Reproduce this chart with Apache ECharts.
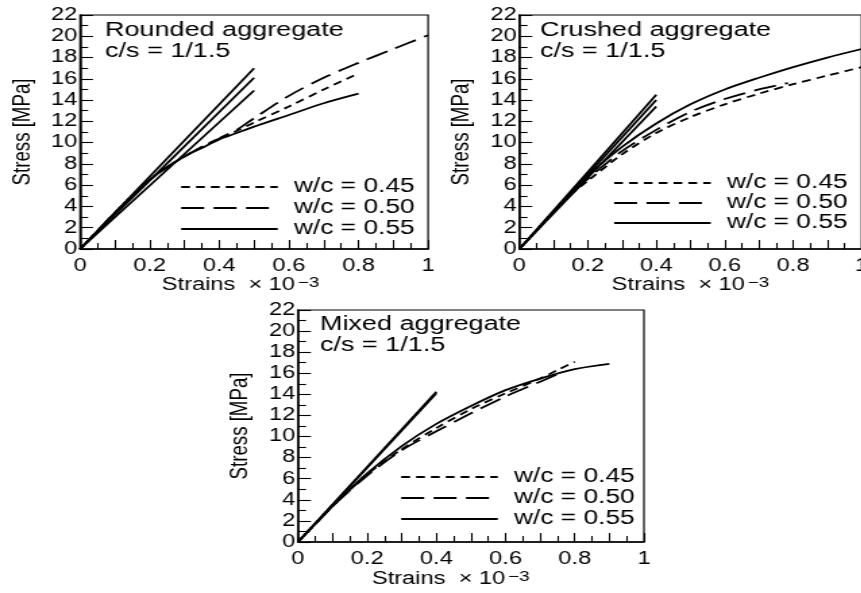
<!DOCTYPE html>
<html>
<head>
<meta charset="utf-8">
<script src="https://cdn.jsdelivr.net/npm/echarts@6/dist/echarts.min.js"></script>
<style>
  html, body { margin: 0; padding: 0; background: #fff; overflow: hidden; width: 861px; height: 593px; }
  #main { width: 638px; height: 593px; transform: scaleX(1.35); transform-origin: 0 0; }
</style>
</head>
<body>
<div id="main"></div>
<script>
// ---------- data (strain x 10^-3, stress MPa) ----------
const legendNames = ['w/c = 0.45', 'w/c = 0.50', 'w/c = 0.55'];
const xLabelValues = [0, 0.2, 0.4, 0.6, 0.8, 1];
const yLabelValues = [0, 2, 4, 6, 8, 10, 12, 14, 16, 18, 20, 22];

const panelTitles = ['Rounded aggregate\nc/s = 1/1.5', 'Crushed aggregate\nc/s = 1/1.5', 'Mixed aggregate\nc/s = 1/1.5'];

// Rounded aggregate
const roundedWc045 = [[0,0],[0.05,1.7],[0.1,3.4],[0.15,5.0],[0.2,6.5],[0.25,7.7],[0.3,8.7],[0.35,9.6],[0.4,10.4],[0.45,11.1],[0.5,11.9],[0.6,13.4],[0.7,15.0],[0.8,16.5]];
const roundedWc050 = [[0,0],[0.05,1.7],[0.1,3.4],[0.15,5.0],[0.2,6.5],[0.25,7.7],[0.3,8.7],[0.35,9.6],[0.4,10.4],[0.45,11.2],[0.5,12.3],[0.6,14.4],[0.7,16.1],[0.8,17.5],[0.9,18.8],[1.0,20.1]];
const roundedWc055 = [[0,0],[0.05,1.7],[0.1,3.4],[0.15,5.0],[0.2,6.5],[0.25,7.7],[0.3,8.7],[0.35,9.5],[0.4,10.3],[0.45,10.9],[0.5,11.5],[0.6,12.6],[0.7,13.7],[0.8,14.6]];
const roundedLinearA = [[0,0],[0.25,8.5],[0.5,17.0]];
const roundedLinearB = [[0,0],[0.25,8.05],[0.5,16.1]];
const roundedLinearC = [[0,0],[0.25,7.45],[0.5,14.9]];

// Crushed aggregate
const crushedWc045 = [[0,0],[0.05,1.75],[0.1,3.5],[0.15,5.1],[0.2,6.4],[0.3,8.9],[0.4,10.9],[0.5,12.4],[0.6,13.6],[0.7,14.6],[0.8,15.5],[0.9,16.3],[1.0,17.1]];
const crushedWc050 = [[0,0],[0.05,1.75],[0.1,3.5],[0.15,5.1],[0.2,6.6],[0.3,9.2],[0.4,11.2],[0.5,12.9],[0.6,14.1],[0.7,15.0],[0.785,15.6]];
const crushedWc055 = [[0,0],[0.05,1.75],[0.1,3.5],[0.15,5.2],[0.2,6.9],[0.3,9.6],[0.4,11.8],[0.5,13.6],[0.6,15.0],[0.7,16.1],[0.8,17.1],[0.9,18.0],[1.0,18.8]];
const crushedLinearA = [[0,0],[0.2,7.25],[0.4,14.5]];
const crushedLinearB = [[0,0],[0.2,7.0],[0.4,14.0]];
const crushedLinearC = [[0,0],[0.2,6.7],[0.4,13.4]];

// Mixed aggregate
const mixedWc045 = [[0,0],[0.05,1.7],[0.1,3.4],[0.2,6.4],[0.3,8.8],[0.4,10.8],[0.5,12.6],[0.6,14.1],[0.7,15.5],[0.75,16.3],[0.8,17.1]];
const mixedWc050 = [[0,0],[0.05,1.7],[0.1,3.4],[0.2,6.3],[0.3,8.7],[0.4,10.5],[0.5,12.2],[0.6,13.8],[0.7,15.2],[0.75,15.9]];
const mixedWc055 = [[0,0],[0.05,1.7],[0.1,3.4],[0.2,6.5],[0.3,9.1],[0.4,11.2],[0.5,12.9],[0.6,14.4],[0.7,15.5],[0.8,16.4],[0.9,16.9]];
const mixedLinearA = [[0,0],[0.2,7.12],[0.4,14.25]];
const mixedLinearB = [[0,0],[0.2,7.05],[0.4,14.1]];

// ---------- styling ----------
const FONT = "'Liberation Sans', Arial, Helvetica, sans-serif";
const BLACK = '#000';
const LW = 1.8;
const DASH_SHORT = [6.5, 4.5];
const DASH_LONG = [17, 7];
const styleFor = { 'w/c = 0.45': DASH_SHORT, 'w/c = 0.50': DASH_LONG, 'w/c = 0.55': 'solid' };

const grids = [
  { left: 59.3, top: 15, width: 257.8, height: 234 },
  { left: 384.7, top: 15, width: 253.5, height: 234 },
  { left: 220.7, top: 310, width: 256.3, height: 232 }
];

function xAxisFor(i, namePadRight, nameGap) {
  return {
    type: 'value', gridIndex: i, min: 0, max: 1, interval: 0.1,
    name: '{a|Strains  × 10}{s|−3}', nameLocation: 'middle', nameGap: nameGap,
    nameTextStyle: {
      color: BLACK, fontFamily: FONT, fontSize: 17.5, padding: [0, namePadRight, 0, 0],
      rich: {
        a: { color: BLACK, fontFamily: FONT, fontSize: 17.5 },
        s: { color: BLACK, fontFamily: FONT, fontSize: 14, verticalAlign: 'top', padding: [0, 0, 0, 2] }
      }
    },
    axisLine: { show: true, onZero: false, lineStyle: { color: BLACK, width: 1.5 } },
    axisTick: { show: true, inside: true, length: 9, lineStyle: { color: BLACK, width: 1.1 } },
    minorTick: { show: true, splitNumber: 2, length: 6, lineStyle: { color: BLACK, width: 1.1 } },
    splitLine: { show: false },
    axisLabel: {
      color: BLACK, fontFamily: FONT, fontSize: 17.5, margin: 8,
      formatter: function (v) {
        const k = Math.round(v * 10);
        const match = xLabelValues.find(t => Math.abs(t - k / 10) < 1e-9);
        return match === undefined ? '' : String(match);
      }
    }
  };
}
function yAxisFor(i) {
  return {
    type: 'value', gridIndex: i, min: 0, max: 22, interval: 2,
    name: 'Stress [MPa]', nameLocation: 'middle', nameGap: 33, nameRotate: 90,
    nameTextStyle: { color: BLACK, fontFamily: FONT, fontSize: 18.7 },
    axisLine: { show: true, onZero: false, lineStyle: { color: BLACK, width: 1.5 } },
    axisTick: { show: true, inside: true, length: 9.6, lineStyle: { color: BLACK, width: 1.1 } },
    minorTick: { show: true, splitNumber: 2, length: 6, lineStyle: { color: BLACK, width: 1.1 } },
    splitLine: { show: false },
    axisLabel: {
      color: BLACK, fontFamily: FONT, fontSize: 17.5, margin: 2,
      formatter: function (v) { return yLabelValues.indexOf(Math.round(v)) >= 0 ? String(Math.round(v)) : ''; }
    }
  };
}

function curve(name, data, i) {
  return {
    type: 'line', name: name, data: data, xAxisIndex: i, yAxisIndex: i,
    symbol: 'none', smooth: 0.3, clip: true,
    lineStyle: { color: BLACK, width: LW, type: styleFor[name] },
    emphasis: { disabled: true }, silent: true
  };
}
function linear(name, data, i) {
  return {
    type: 'line', name: name, data: data, xAxisIndex: i, yAxisIndex: i,
    symbol: 'none', clip: true,
    lineStyle: { color: BLACK, width: LW, type: 'solid' },
    emphasis: { disabled: true }, silent: true
  };
}

const series = [
  curve(legendNames[0], roundedWc045, 0),
  curve(legendNames[1], roundedWc050, 0),
  curve(legendNames[2], roundedWc055, 0),
  linear('Rounded linear A', roundedLinearA, 0),
  linear('Rounded linear B', roundedLinearB, 0),
  linear('Rounded linear C', roundedLinearC, 0),
  curve(legendNames[0], crushedWc045, 1),
  curve(legendNames[1], crushedWc050, 1),
  curve(legendNames[2], crushedWc055, 1),
  linear('Crushed linear A', crushedLinearA, 1),
  linear('Crushed linear B', crushedLinearB, 1),
  linear('Crushed linear C', crushedLinearC, 1),
  curve(legendNames[0], mixedWc045, 2),
  curve(legendNames[1], mixedWc050, 2),
  curve(legendNames[2], mixedWc055, 2),
  linear('Mixed linear A', mixedLinearA, 2),
  linear('Mixed linear B', mixedLinearB, 2)
];

function legendAt(left, top, gap) {
  return {
    orient: 'vertical', left: left, top: top, padding: 0, itemGap: gap,
    itemWidth: 71.5, itemHeight: 14, selectedMode: false,
    data: legendNames,
    itemStyle: { color: 'rgba(0,0,0,0)', borderWidth: 0, opacity: 0 },
    lineStyle: { color: BLACK, width: LW },
    textStyle: { color: BLACK, fontFamily: FONT, fontSize: 19.5, lineHeight: 20, padding: [0, 0, 0, 7] }
  };
}
function titleAt(text, left, top) {
  return {
    text: text, left: left, top: top, padding: 0, itemGap: 0,
    textStyle: { color: BLACK, fontFamily: FONT, fontSize: 20, fontWeight: 'normal', lineHeight: 21 }
  };
}

const chart = echarts.init(document.getElementById('main'), null, { renderer: 'canvas' });
chart.setOption({
  animation: false,
  backgroundColor: '#fff',
  title: [
    titleAt(panelTitles[0], 77.8, 20),
    titleAt(panelTitles[1], 400, 19.5),
    titleAt(panelTitles[2], 237, 314)
  ],
  legend: [
    legendAt(133.3, 177, 1),
    legendAt(454, 173, 0),
    legendAt(296.3, 467, 1)
  ],
  grid: grids.map(g => Object.assign({ show: true, borderColor: BLACK, borderWidth: 1.2, backgroundColor: 'transparent', containLabel: false, outerBoundsMode: 'none' }, g)),
  xAxis: [xAxisFor(0, 20, 26.5), xAxisFor(1, 0, 26.5), xAxisFor(2, 30, 28)],
  yAxis: [yAxisFor(0), yAxisFor(1), yAxisFor(2)],
  series: series
});
</script>
</body>
</html>
